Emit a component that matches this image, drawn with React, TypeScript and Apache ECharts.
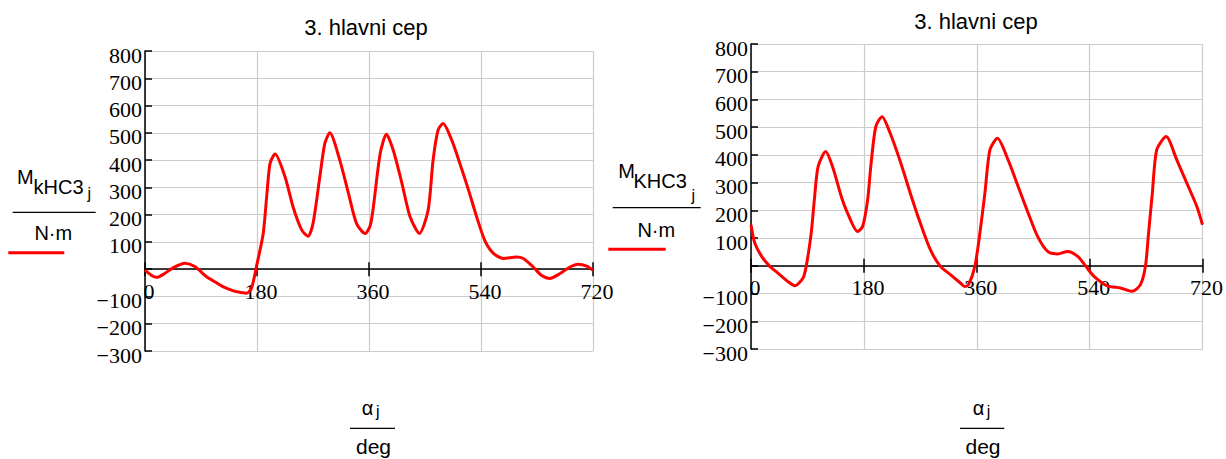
import React, { useEffect, useRef } from 'react';
import * as echarts from 'echarts';

// ---- data ----
const xTicks = [0, 180, 360, 540, 720];
const yTicks = [-300, -200, -100, 0, 100, 200, 300, 400, 500, 600, 700, 800];

const leftAngles = [0, 10, 19, 30, 45, 64, 80, 99, 115, 126, 140, 150, 163, 170, 174, 179, 190, 196, 201, 209, 225, 238, 252, 262, 270, 281, 289, 297, 313, 327, 340, 354, 362, 367, 378, 388, 399, 413, 426, 441, 455, 463, 471, 479, 493, 506, 520, 533, 546, 560, 576, 597, 608, 624, 637, 651, 667, 683, 696, 710, 720];
const leftTorque = [-3, -22, -30, -18, 5, 22, 10, -28, -50, -65, -78, -84, -88, -75, -46, 8, 131, 278, 388, 422, 339, 228, 143, 121, 167, 339, 461, 500, 400, 278, 167, 131, 160, 228, 424, 495, 436, 314, 192, 131, 216, 400, 510, 534, 473, 388, 290, 192, 106, 58, 39, 45, 39, 8, -22, -34, -16, 8, 18, 11, -4];

const rightAngles = [0, 6, 17, 30, 43, 59, 70, 83, 88, 96, 101, 107, 119, 130, 144, 154, 170, 178, 186, 191, 199, 209, 222, 239, 254, 270, 286, 302, 318, 334, 341, 347, 357, 365, 373, 381, 393, 410, 426, 442, 457, 473, 489, 505, 521, 534, 547, 568, 589, 608, 621, 629, 634, 640, 647, 662, 679, 695, 711, 720];
const rightTorque = [148, 82, 34, -2, -26, -57, -72, -44, -2, 118, 238, 358, 412, 358, 250, 190, 124, 142, 238, 358, 502, 538, 478, 370, 262, 154, 58, -2, -32, -62, -75, -68, -2, 118, 262, 418, 460, 382, 286, 190, 106, 52, 43, 52, 34, -2, -38, -72, -80, -92, -68, -2, 118, 262, 418, 466, 382, 298, 214, 148];

const titleText = '3. hlavni cep';
const leftSub = 'kHC3';
const rightSub = 'KHC3';

const serif = 'Liberation Serif';
const sans = 'Liberation Sans';

const zip = (a: number[], b: number[]) => a.map((v, i) => [v, b[i]]);

const boxStyle: React.CSSProperties = { position: 'absolute', left: 0, top: 0, width: 1226, height: 459 };

export default function App() {
  const ref = useRef<HTMLDivElement>(null);
  const textRef = useRef<HTMLDivElement>(null);
  useEffect(() => {
    const chart = echarts.init(ref.current!, null, { renderer: 'svg' });
    const black = { color: '#000', width: 1.5 };
    const gray = { color: '#cccccc', width: 1.2 };
    const yMin = yTicks[0];
    const yMax = yTicks[yTicks.length - 1];
    const grids = [
      { left: 145, top: 51, width: 448, height: 300 },
      { left: 751, top: 44, width: 455, height: 305 },
    ];
    // distance of the value 0 above the bottom of each grid, from the y scale
    const zeroOffset = (gi: number) => -grids[gi].height * (0 - yMin) / (yMax - yMin);
    const labelText = { fontFamily: serif, fontSize: 22, fontWeight: 'normal', color: '#000' };
    const xBase = (gi: number) => ({
      type: 'value', gridIndex: gi, position: 'bottom',
      min: xTicks[0], max: xTicks[xTicks.length - 1], interval: xTicks[1] - xTicks[0],
    });
    const xGridOnly = (gi: number) => ({
      ...xBase(gi),
      axisLine: { show: false, onZero: false },
      axisTick: { show: false },
      axisLabel: { show: false },
      splitLine: { show: true, lineStyle: gray },
    });
    const xMain = (gi: number) => ({
      ...xBase(gi), offset: zeroOffset(gi),
      axisLine: { show: true, onZero: false, lineStyle: black },
      axisTick: { show: true, inside: false, length: 7, lineStyle: black },
      axisLabel: {
        ...labelText, margin: 11,
        formatter: (v: number) => `{t|${v}}`,
        rich: { t: { ...labelText, padding: [0, 0, 0, 8] } },
      },
      splitLine: { show: false },
    });
    const xInner = (gi: number) => ({
      ...xBase(gi), offset: zeroOffset(gi),
      axisLine: { show: false, onZero: false },
      axisTick: { show: true, inside: true, length: 7, lineStyle: black },
      axisLabel: { show: false },
      splitLine: { show: false },
    });
    const yAx = (gi: number) => ({
      type: 'value', gridIndex: gi,
      min: yMin, max: yMax, interval: yTicks[1] - yTicks[0],
      axisLine: { show: true, onZero: false, lineStyle: black },
      axisTick: { show: true, inside: true, length: 7, lineStyle: black },
      axisLabel: {
        ...labelText, margin: 3,
        formatter: (v: number) => (v === 0 ? '' : `{t|${v < 0 ? '\u2212' + Math.abs(v) : String(v)}}`),
        rich: { t: { ...labelText, padding: [8, 0, 0, 0] } },
      },
      splitLine: { show: true, lineStyle: gray },
    });
    const lineSeries = (xi: number, yi: number, data: number[][]) => ({
      type: 'line', xAxisIndex: xi, yAxisIndex: yi, data,
      symbol: 'none', showSymbol: false, smooth: 0.25,
      lineStyle: { color: '#ff0000', width: 3 }, itemStyle: { color: '#ff0000' },
      z: 5,
    });
    chart.setOption({
      animation: false,
      grid: grids.map((g) => ({ ...g, containLabel: false })),
      xAxis: [xGridOnly(0), xMain(0), xInner(0), xGridOnly(1), xMain(1), xInner(1)],
      yAxis: [yAx(0), yAx(1)],
      series: [lineSeries(0, 0, zip(leftAngles, leftTorque)), lineSeries(3, 1, zip(rightAngles, rightTorque))],
    });

    // titles and axis captions live in a separate transparent overlay instance
    const overlay = echarts.init(textRef.current!, null, { renderer: 'svg' });
    const txt = (text: string, x: number, y: number, size: number, align: string) => ({
      type: 'text', x, y, silent: true,
      style: { text, fill: '#000', fontFamily: sans, fontSize: size, align, verticalAlign: 'middle' },
    });
    const hline = (x1: number, x2: number, y: number, color: string, w: number) => ({
      type: 'line', silent: true, shape: { x1, y1: y, x2, y2: y }, style: { stroke: color, lineWidth: w },
    });
    overlay.setOption({
      animation: false,
      backgroundColor: 'transparent',
      graphic: [
        txt(titleText, 366, 27, 22, 'center'),
        txt(titleText, 976, 21, 22, 'center'),
        // left y title
        txt('M', 17, 177, 20, 'left'),
        txt(leftSub, 33.5, 186.5, 20, 'left'),
        txt('j', 87.5, 193, 16, 'left'),
        hline(12.7, 95.7, 212.3, '#000', 1.3),
        txt('N\u00B7m', 53.3, 232.5, 20, 'center'),
        hline(8.3, 64.3, 252.7, '#ff0000', 3),
        // right y title
        txt('M', 618.3, 171, 20, 'left'),
        txt(rightSub, 633.5, 181, 20, 'left'),
        txt('j', 691.5, 195, 16, 'left'),
        hline(612.7, 700.7, 207.7, '#000', 1.3),
        txt('N\u00B7m', 656.3, 230, 20, 'center'),
        hline(608.3, 665.7, 249.3, '#ff0000', 3),
        // left x title
        txt('\u03B1', 361.7, 408, 20, 'left'),
        txt('j', 376, 411, 16, 'left'),
        hline(350, 395, 428.3, '#000', 1.3),
        txt('deg', 373.5, 446.3, 21, 'center'),
        // right x title
        txt('\u03B1', 972.7, 408, 20, 'left'),
        txt('j', 986.7, 411, 16, 'left'),
        hline(960, 1004.3, 428.3, '#000', 1.3),
        txt('deg', 983, 446.3, 21, 'center'),
      ],
    });
    return () => {
      overlay.dispose();
      chart.dispose();
    };
  }, []);
  return (
    <div style={{ position: 'absolute', left: 0, top: 0, width: 1226, height: 459, background: '#fff' }}>
      <div ref={ref} style={boxStyle} />
      <div ref={textRef} style={{ ...boxStyle, pointerEvents: 'none' }} />
    </div>
  );
}
